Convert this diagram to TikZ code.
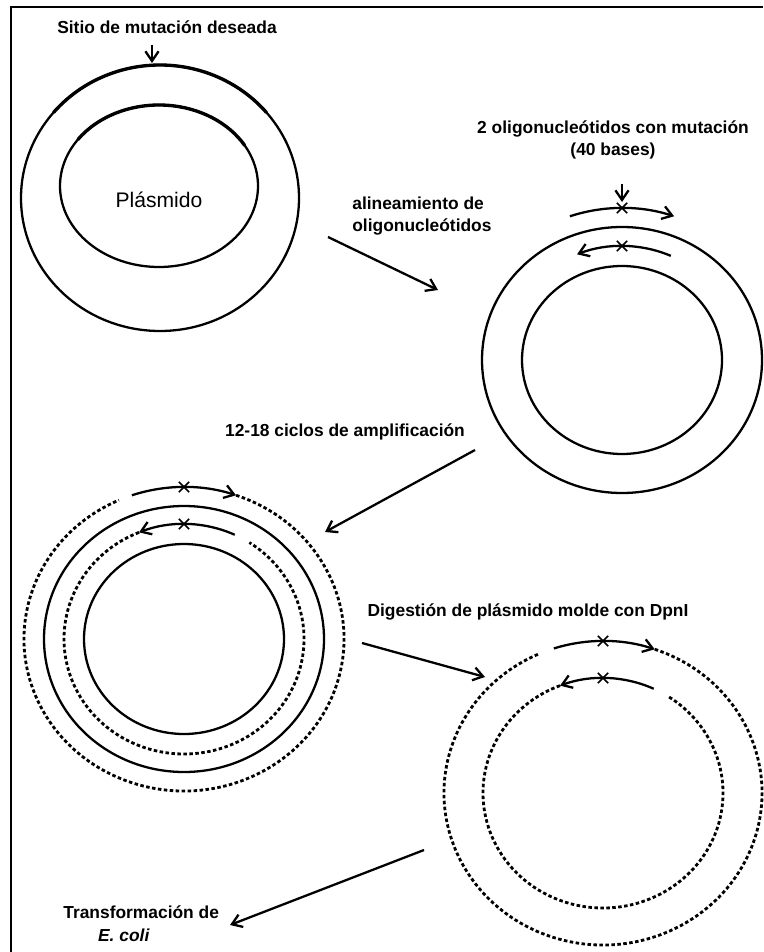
\documentclass[tikz,border=0pt]{standalone}
\usepackage{fontspec}
\setmainfont{Liberation Sans}
\usetikzlibrary{arrows.meta,shapes.misc}
\tikzset{%
  >={Straight Barb[length=5.5pt,width=7.5pt]},
  % estilos de textos y hebras
          txt/.style = {font=\bfseries\fontsize{9.9}{13}\selectfont, inner sep=0pt},
       strand/.style = {line width=1.3pt},
     template/.style = {line width=1.9pt},
       nicked/.style = {line width=1.6pt, dash pattern=on 2pt off 1.4pt},
        oligo/.style = {line width=1.3pt, ->},
         flow/.style = {line width=1.3pt, ->},
        xmark/.style = {cross out, draw, line width=0.9pt, minimum size=5pt, inner sep=0pt},
}

\begin{document}
\begin{tikzpicture}[x=0.02cm, y=0.02cm]
  \useasboundingbox (0,0) rectangle (763,-952);
  \draw[line width=1.2pt] (763,-7) -- (11,-7) -- (11,-952);

  % centros de los plasmidos
  \coordinate (c1o) at (160,-198);
  \coordinate (c1i) at (159,-186);
  \coordinate (c2)  at (622,-360);
  \coordinate (c3)  at (184,-639);
  \coordinate (c4)  at (603,-793);

  % 1: plasmido
  \node (site)     [txt] at (167,-27) {Sitio de mutación deseada};
  \node (plasmid)  [font=\fontsize{12}{13}\selectfont] at (159,-200) {Plásmido};
  \draw[strand]    (c1o) ellipse [x radius=139, y radius=133];
  \draw[strand]    (c1i) ellipse [x radius=99, y radius=81];
  \draw[template]  ([shift={(140:139 and 133)}]c1o) arc[start angle=140, end angle=40, x radius=139, y radius=133];
  \draw[template]  ([shift={(145:99 and 81)}]c1i) arc[start angle=145, end angle=30, x radius=99, y radius=81];
  \coordinate (site-a) at (152,-45);
  \coordinate (site-b) at (152,-63);
  \draw[flow]      (site-a) -- (site-b);

  % paso 1
  \node (align)    [txt, align=left, anchor=west] at (352,-216) {alineamiento de\\oligonucleótidos};
  \coordinate (s1a) at (328,-237);
  \coordinate (s1b) at (438,-290);
  \draw[flow]      (s1a) -- (s1b);

  % 2: plasmido con oligonucleotidos
  \node (oligos)   [txt, align=center] at (613,-140) {2 oligonucleótidos con mutación\\(40 bases)};
  \draw[strand]    (c2) ellipse [x radius=140, y radius=133];
  \draw[strand]    (c2) ellipse [x radius=100, y radius=94];
  \draw[oligo]     ([shift={(109:160 and 152)}]c2) arc[start angle=109, end angle=71, x radius=160, y radius=152];
  \draw[oligo]     ([shift={(66:120 and 114)}]c2) arc[start angle=66, end angle=112, x radius=120, y radius=114];
  \node (x2a)      [xmark] at ([shift={(90:160 and 152)}]c2) {};
  \node (x2b)      [xmark] at ([shift={(90:120 and 114)}]c2) {};
  \coordinate (mut-a) at (622,-184);
  \coordinate (mut-b) at (622,-202);
  \draw[flow]      (mut-a) -- (mut-b);

  % paso 2
  \node (cycles)   [txt] at (345,-432) {12-18 ciclos de amplificación};
  \coordinate (s2a) at (475,-450);
  \coordinate (s2b) at (325,-532);
  \draw[flow]      (s2a) -- (s2b);

  % 3: amplificacion
  \draw[nicked]    ([shift={(71:160 and 152)}]c3) arc[start angle=71, end angle=-246, x radius=160, y radius=152];
  \draw[oligo]     ([shift={(109:160 and 152)}]c3) arc[start angle=109, end angle=71, x radius=160, y radius=152];
  \draw[strand]    (c3) ellipse [x radius=140, y radius=133];
  \draw[nicked]    ([shift={(112:120 and 115)}]c3) arc[start angle=112, end angle=417, x radius=120, y radius=115];
  \draw[oligo]     ([shift={(65:120 and 115)}]c3) arc[start angle=65, end angle=112, x radius=120, y radius=115];
  \draw[strand]    (c3) ellipse [x radius=100, y radius=95];
  \node (x3a)      [xmark] at ([shift={(90:160 and 152)}]c3) {};
  \node (x3b)      [xmark] at ([shift={(90:120 and 115)}]c3) {};

  % paso 3
  \node (digest)   [txt] at (528,-612) {Digestión de plásmido molde con DpnI};
  \coordinate (s3a) at (362,-643);
  \coordinate (s3b) at (485,-677);
  \draw[flow]      (s3a) -- (s3b);

  % 4: plasmido mutado
  \draw[nicked]    ([shift={(71:159 and 152)}]c4) arc[start angle=71, end angle=-246, x radius=159, y radius=152];
  \draw[oligo]     ([shift={(108:159 and 152)}]c4) arc[start angle=108, end angle=71, x radius=159, y radius=152];
  \draw[nicked]    ([shift={(111:120 and 115)}]c4) arc[start angle=111, end angle=417, x radius=120, y radius=115];
  \draw[oligo]     ([shift={(65:120 and 115)}]c4) arc[start angle=65, end angle=111, x radius=120, y radius=115];
  \node (x4a)      [xmark] at ([shift={(90:159 and 152)}]c4) {};
  \node (x4b)      [xmark] at ([shift={(90:120 and 115)}]c4) {};

  % paso 4
  \node (transf)   [txt, align=left, anchor=west] at (63,-924) {Transformación de\\\hspace*{2em}\textit{E. coli}};
  \coordinate (s4a) at (424,-850);
  \coordinate (s4b) at (230,-925);
  \draw[flow]      (s4a) -- (s4b);
\end{tikzpicture}
\end{document}
